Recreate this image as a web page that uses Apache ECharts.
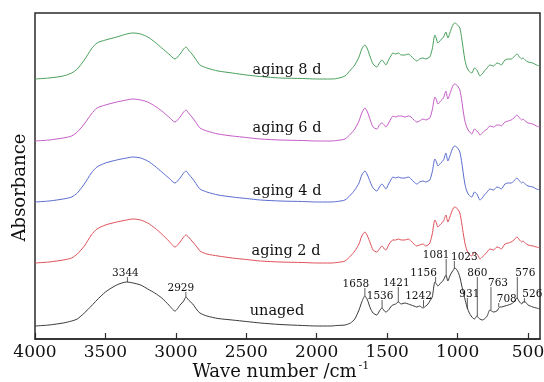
<!DOCTYPE html>
<html><head><meta charset="utf-8">
<script src="https://cdn.jsdelivr.net/npm/echarts@6/dist/echarts.min.js"></script>
<style>html,body{margin:0;padding:0;background:#fff}#c{width:544px;height:382px}</style>
</head><body><div id="c"></div>
<script>
// Wave numbers (cm^-1) shared by all spectra
const wavenumbers = [4000,3900,3800,3740,3700,3650,3600,3560,3500,3420,
  3350,3304,3250,3200,3150,3100,3050,3006,2970,2945,
  2928,2910,2880,2850,2829,2780,2700,2600,2500,2400,
  2261,2100,2000,1900,1857,1800,1760,1730,1700,1680,
  1658,1640,1620,1600,1573,1555,1537,1520,1509,1490,
  1470,1459,1440,1420,1400,1374,1350,1330,1310,1289,
  1270,1246,1225,1210,1197,1180,1161,1150,1140,1120,
  1100,1083,1069,1055,1040,1030,1019,1000,984,970,
  958,948,935,920,899,880,863,850,842,825,
  810,790,771,745,721,700,690,664,640,620,
  600,579,560,545,537,520,500,466,440,416];

// Absorbance (arbitrary units, stacked spectra)
const unaged = [13,14,16,18,20,26,33,39,47,54,
  57,56,54,50,46,41,34,28,34,38,
  42,39,35,29,26,23,20.5,19,17.5,16,
  14.5,13.5,13,13,13.5,14,16,20,29,37,
  43,39,31,26,24,28,31,28,27,29,
  33,34,35,37,35,36,35,34,33,32,
  33,31,33,35,38,42,57,55,53,56,
  59,64,58,63,67,69,71,68,62,53,
  46,40,33,27,22,20,23,21,20,19,
  20,23,29,27,28,32,32,33,34,35,
  37,41,37,35,37,37,34,32,31,30];
const aging2d = [76,77,79,81,85,93,104,110,114,117,
  119,120,119,116,111,105,98,92,97,102,
  104,102,97,92,88,85,83,81,79.5,78,
  77,76.5,76,76,76.5,78,83,88,95,103,
  107,103,96,89,87,90,93,90,89,94,
  98,99,99,100,99,99,100,98,95,93,
  94,95,93,94,96,105,119,116,112,115,
  118,124,117,122,128,131,132,130,126,115,
  104,96,89,85,83,87,85,82,80,82,
  84,87,90,89,92,91,90,95,96,97,
  99,102,99,97,98,96,94,93,92,91];
const aging4d = [137,138,140,142,146,155,166,172,176,179,
  181,182,181,178,173,167,161,156,161,166,
  168,165,160,154,150,147,144,142,140.5,139,
  138,137.5,137,137,137.5,139,144,149,156,164,
  168,164,157,151,148,152,155,152,150,155,
  160,162,161,162,161,161,162,160,157,155,
  157,158,157,158,159,167,180,177,173,176,
  179,186,178,183,189,192,193,191,187,176,
  164,155,148,144,142,147,145,141,139,141,
  144,147,150,149,152,151,150,155,156,156,
  158,161,158,156,157,155,153,152,150,149];
const aging6d = [198,199,201,203,207,215,225,231,234,237,
  239,240,239,237,233,228,222,217,222,227,
  229,226,221,215,211,208,205,203,201.5,200,
  199,198.5,198,198,198.5,200,205,210,218,226,
  231,227,219,212,210,214,216,214,212,216,
  221,223,222,223,223,222,223,222,219,217,
  218,220,219,220,221,229,242,239,235,238,
  241,248,240,245,251,254,255,253,249,238,
  226,218,212,208,205,210,208,206,204,206,
  208,210,213,212,214,214,213,217,218,219,
  221,224,221,219,220,218,216,215,213,212];
const aging8d = [260,261,263,266,270,279,290,296,299,302,
  305,306,305,302,297,291,285,280,285,290,
  292,289,284,278,274,271,268,266,264,262.5,
  261,260.5,260,260,260.5,263,269,274,282,290,
  294,290,282,275,272,276,279,276,274,279,
  284,286,285,286,284,284,285,283,280,278,
  280,281,280,281,282,290,304,300,296,299,
  302,307,301,306,312,315,316,314,311,300,
  288,279,272,268,266,271,269,265,263,265,
  268,271,274,273,276,275,274,279,280,280,
  282,285,282,280,281,279,277,276,274,273];

const seriesNames = ['unaged','aging 2 d','aging 4 d','aging 6 d','aging 8 d'];

// Peak annotations on the unaged spectrum
const peakWn   = [3344,2929,1658,1536,1421,1242,1156,1081,1023,931,860,763,708,576,526];
const peakLow  = [57,42,43,31,37,32,57,64,70,30,23,29,32,40,37];
const peakHigh = [62,47,51,39,52,39,62,80,78,41,62,52,36,62,41];

const xTicks = [4000,3500,3000,2500,2000,1500,1000,500];

// ---- layout / style (not data) ----
const labelDx = [-2,-5,-9,-2,-2,-5,-12,-10,10,2,0,7,8,8,8];
const colors = ['#3a3a3a','#e0505a','#5a6cd0','#c45cc6','#48a05c'];
const FONT = '"DejaVu Serif", "Liberation Serif", serif';

const allSeries = [unaged, aging2d, aging4d, aging6d, aging8d];
const chart = echarts.init(document.getElementById('c'), null, {renderer:'canvas'});

const lineSeries = allSeries.map((vals, k) => ({
  type: 'line', name: seriesNames[k],
  data: wavenumbers.map((w, i) => [w, vals[i]]),
  showSymbol: false, symbol: 'none', smooth: 0.25,
  lineStyle: {color: colors[k], width: 1},
  itemStyle: {color: colors[k]},
  z: 3
}));

const annot = {
  type: 'custom', z: 5,
  data: peakWn.map((w, i) => [w, peakLow[i], peakHigh[i]]),
  encode: {x: 0, y: [1, 2]},
  renderItem: function (params, api) {
    const w = api.value(0);
    const p1 = api.coord([w, api.value(1)]);
    const p2 = api.coord([w, api.value(2)]);
    const dx = labelDx[params.dataIndex];
    return {type: 'group', children: [
      {type: 'line', shape: {x1: p1[0], y1: p1[1], x2: p2[0], y2: p2[1]},
       style: {stroke: '#333', lineWidth: 0.8}},
      {type: 'text', x: p2[0] + dx, y: p2[1] + 1.5,
       style: {text: String(w), font: '10.5px ' + FONT, fill: '#111',
               align: 'center', verticalAlign: 'bottom'}}
    ]};
  }
};

const labelPos = [[277,311.5],[286,251.5],[287,191.5],[287,128.5],[287,70]];
const graphics = seriesNames.map((n, k) => ({
  type: 'text', x: labelPos[k][0], y: labelPos[k][1], z: 10,
  style: {text: n, font: '14.5px ' + FONT, fill: '#111', align: 'center', verticalAlign: 'middle'}
}));
graphics.push({type: 'text', x: 274.5, y: 372, z: 10,
  style: {text: 'Wave number /cm', font: '18px ' + FONT, fill: '#111', align: 'center', verticalAlign: 'middle'}});
graphics.push({type: 'text', x: 358.5, y: 366, z: 10,
  style: {text: '-1', font: '11px ' + FONT, fill: '#111', align: 'left', verticalAlign: 'middle'}});
graphics.push({type: 'text', x: 20, y: 187.5, rotation: Math.PI / 2, z: 10,
  style: {text: 'Absorbance', font: '18px ' + FONT, fill: '#111', align: 'center', verticalAlign: 'middle'}});

chart.setOption({
  animation: false,
  backgroundColor: '#fff',
  grid: {left: 35, right: 4, top: 13, bottom: 43, containLabel: false, outerBoundsMode: 'none',
         show: true, borderColor: '#2a2a2a', borderWidth: 1.5, backgroundColor: 'transparent'},
  xAxis: {
    type: 'value', inverse: true, min: 415, max: 4000,
    axisLine: {show: true, lineStyle: {color: '#2a2a2a', width: 1.5}},
    axisTick: {show: true, inside: true, length: 6, customValues: xTicks, lineStyle: {color: '#2a2a2a', width: 1.2}},
    axisLabel: {show: true, customValues: xTicks, margin: 5, color: '#111', fontSize: 17, fontFamily: FONT,
                formatter: v => String(v)},
    splitLine: {show: false}
  },
  yAxis: {
    type: 'value', min: 0, max: 326,
    axisLine: {show: false}, axisTick: {show: false}, axisLabel: {show: false}, splitLine: {show: false}
  },
  series: lineSeries.concat([annot]),
  graphic: graphics
});
</script></body></html>
